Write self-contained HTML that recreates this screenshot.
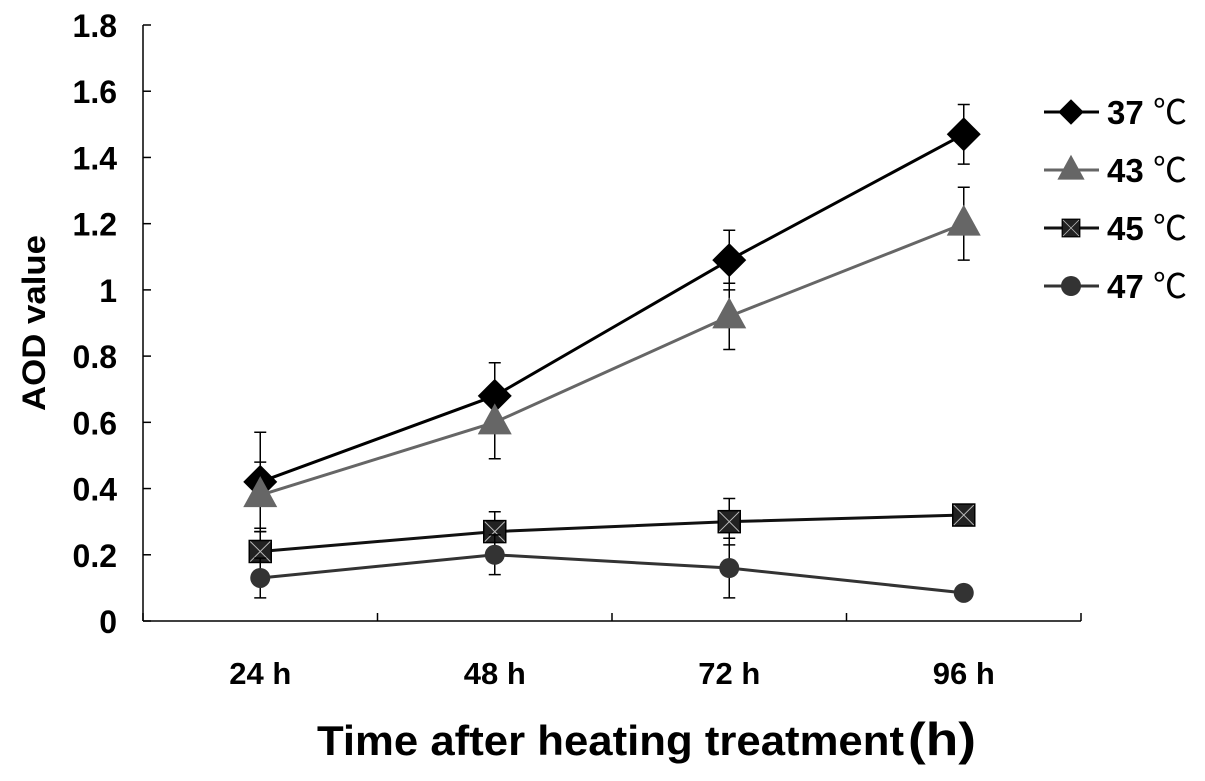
<!DOCTYPE html>
<html><head><meta charset="utf-8"><style>
body{margin:0;background:#fff;}
svg text{font-family:"Liberation Sans","Noto Sans CJK SC",sans-serif;}
</style></head><body>
<svg id="chart" width="1205" height="776" xmlns="http://www.w3.org/2000/svg"></svg>
<script>
const categories=["24 h","48 h","72 h","96 h"];
const yTicks=[0,0.2,0.4,0.6,0.8,1,1.2,1.4,1.6,1.8];
const yTickLabels=["0","0.2","0.4","0.6","0.8","1","1.2","1.4","1.6","1.8"];
const seriesNames=["37 ℃","43 ℃","45 ℃","47 ℃"];
const s37=[0.42,0.68,1.09,1.47];
const e37=[0.15,0.10,0.09,0.09];
const s43=[0.38,0.60,0.92,1.20];
const e43=[0.10,0.11,0.10,0.11];
const s45=[0.21,0.27,0.30,0.32];
const e45=[0.06,0.06,0.07,0.01];
const s47=[0.13,0.20,0.16,0.085];
const e47=[0.06,0.06,0.09,0.01];

const NS="http://www.w3.org/2000/svg";
const svg=document.getElementById('chart');
const X0=143,X1=1081,Y0=621,Y1=25,YMAX=1.8;
const band=(X1-X0)/categories.length;
const xs=i=>X0+band*(i+0.5);
const ys=v=>Y0-(v/YMAX)*(Y0-Y1);
function mk(t,a,p){const e=document.createElementNS(NS,t);for(const k in a)e.setAttribute(k,a[k]);(p||svg).appendChild(e);return e;}

let ax=mk('line',{x1:X0,y1:Y1,x2:X0,y2:Y0,stroke:'#000','stroke-width':1.5});


ax=mk('line',{x1:X0,y1:Y0,x2:X1,y2:Y0,stroke:'#000','stroke-width':1.5});


yTicks.forEach((v,i)=>{
  mk('line',{x1:X0,y1:ys(v),x2:X0+8,y2:ys(v),stroke:'#000','stroke-width':1.5});
  const t=mk('text',{x:117,y:ys(v)+12,'text-anchor':'end','font-size':32,'font-weight':'bold'});
  t.textContent=yTickLabels[i];
  
  
});
for(let i=0;i<=categories.length;i++){
  mk('line',{x1:X0+band*i,y1:Y0,x2:X0+band*i,y2:Y0-8,stroke:'#000','stroke-width':1.5});
}
categories.forEach((c,i)=>{
  const t=mk('text',{x:xs(i),y:684,'text-anchor':'middle','font-size':31,'font-weight':'bold'});
  t.textContent=c;
  
  
});
let t=mk('text',{x:0,y:0,transform:'translate(45,323) rotate(-90)','text-anchor':'middle','font-size':32,'font-weight':'bold',textLength:176,lengthAdjust:'spacingAndGlyphs'});
t.textContent='AOD value';


t=mk('text',{x:317,y:755,'font-size':42,'font-weight':'bold',textLength:587,lengthAdjust:'spacingAndGlyphs'});
t.textContent='Time after heating treatment';


t=mk('text',{x:908,y:755,'font-size':46,'font-weight':'bold',textLength:68,lengthAdjust:'spacingAndGlyphs'});
t.textContent='(h)';



function marker(kind,x,y,color,g){
  if(kind==='diamond')mk('polygon',{points:`${x},${y-17} ${x+17},${y} ${x},${y+17} ${x-17},${y}`,fill:color},g);
  else if(kind==='tri')mk('polygon',{points:`${x},${y-19} ${x+17},${y+12} ${x-17},${y+12}`,fill:color},g);
  else if(kind==='square'){mk('rect',{x:x-11,y:y-11,width:22,height:22,fill:'#222',stroke:'#000','stroke-width':1.5},g);
    mk('path',{d:`M${x-10} ${y-10}L${x+10} ${y+10}M${x+10} ${y-10}L${x-10} ${y+10}`,stroke:'#bbb','stroke-width':1},g);}
  else mk('circle',{cx:x,cy:y,r:10,fill:color},g);
}
const series=[[s37,e37,'#000','diamond'],[s43,e43,'#666','tri'],[s45,e45,'#111','square'],[s47,e47,'#333','circle']];
series.forEach(([vals,errs,col,kind],si)=>{
  const g=mk('g',{});
  
  
  vals.forEach((v,i)=>{
    const x=xs(i);
    mk('path',{d:`M${x} ${ys(v-errs[i])}V${ys(v+errs[i])}M${x-6} ${ys(v-errs[i])}h12M${x-6} ${ys(v+errs[i])}h12`,stroke:'#000','stroke-width':1.5,fill:'none'},g);
  });
  mk('polyline',{points:vals.map((v,i)=>xs(i)+','+ys(v)).join(' '),fill:'none',stroke:col,'stroke-width':3},g);
  vals.forEach((v,i)=>marker(kind,xs(i),ys(v),col,g));
  const ly=112+si*58;
  const lg=mk('g',{});
  
  
  mk('line',{x1:1044,y1:ly,x2:1099,y2:ly,stroke:col,'stroke-width':3},lg);
  const k=kind==='diamond'?0.75:kind==='tri'?0.8:kind==='circle'?1:0.8;
  const mg=mk('g',{transform:`translate(1071,${ly}) scale(${k}) translate(-1071,${-ly})`},lg);
  marker(kind,1071,ly,col,mg);
  const lt=mk('text',{x:1107,y:ly+12,'font-size':33,'font-weight':'bold'},lg);
  lt.textContent=seriesNames[si].slice(0,2);
  const lu=mk('text',{x:1153,y:ly+12,'font-size':34,'font-family':'"Noto Serif CJK SC",serif'},lg);
  lu.textContent='℃';
});
</script>
</body></html>
